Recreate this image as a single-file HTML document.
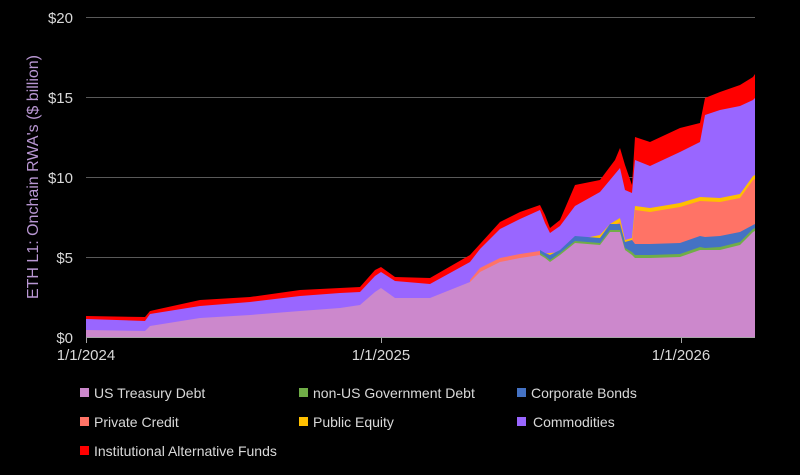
<!DOCTYPE html>
<html><head><style>
body{margin:0;background:#000;}
svg text{font-family:"Liberation Sans",sans-serif;}
</style></head><body>
<svg width="800" height="470" viewBox="0 0 800 470" xmlns="http://www.w3.org/2000/svg">
<rect width="800" height="470" fill="#000"/>
<g stroke="#595959" stroke-width="1">
<line x1="86" y1="17.5" x2="755" y2="17.5"/>
<line x1="86" y1="97.5" x2="755" y2="97.5"/>
<line x1="86" y1="177.5" x2="755" y2="177.5"/>
<line x1="86" y1="257.5" x2="755" y2="257.5"/>
</g>
<g fill="#d9d9d9" font-size="15" text-anchor="end">
<text x="73" y="23">$20</text>
<text x="73" y="103">$15</text>
<text x="73" y="183">$10</text>
<text x="73" y="263">$5</text>
<text x="73" y="343">$0</text>
</g>
<text transform="translate(38,177) rotate(-90)" fill="#b997d3" font-size="16" text-anchor="middle">ETH L1: Onchain RWA's ($ billion)</text>
<polygon fill="#ff0000" points="86,337 86,316 145,317 150,311 200,300 250,297 300,290 340,288 360,287 375,270 381,267 395,277 430,278 470,255 500,222 520,212 540,205 545,215 550,228 560,220 575,185 600,180 615,160 620,148 625,165 632,185 635,137 650,142 680,128 700,123 705,98 720,92 740,85 753,77 755,74 755,337"/>
<polygon fill="#9966ff" points="86,337 86,319 145,321 150,314 200,306 250,302 300,296 340,293 360,292 375,276 381,272 395,281 430,284 470,262 480,249 500,229 520,219 540,210 545,223 550,233 560,226 575,206 600,192 610,180 620,168 625,190 632,193 635,160 650,166 680,152 700,142 705,115 720,110 740,106 753,100 755,98 755,337"/>
<polygon fill="#ffc000" points="540,337 540,254 560,252 575,240 600,235 610,224 620,218 625,240 632,238 635,206 650,208 680,203 700,197 720,198 740,194 753,176 755,175 755,337"/>
<polygon fill="#ff7366" points="470,337 470,280 480,268 500,258 520,254 540,251 545,256 550,258 560,254 575,242 600,238 610,228 620,222 625,244 632,243 635,210 650,212 680,207 700,201 720,202 740,198 753,180 755,179 755,337"/>
<polygon fill="#4472c4" points="540,337 540,250 545,253 550,255 560,250 575,236 600,238 610,224 620,224 625,242 632,240 635,244 650,244 680,243 700,236 705,237 720,236 740,232 753,225 755,224 755,337"/>
<polygon fill="#70ad47" points="540,337 540,253 545,256 550,260 560,253 575,241 600,243 610,230 620,230 625,248 632,252 635,255 650,255 680,254 700,247 705,248 720,247 740,242 753,229 755,228 755,337"/>
<polygon fill="#cc88cc" points="86,337 86,330 145,331 150,326 200,318 250,315 300,311 340,308 360,305 375,292 381,288 395,298 430,298 470,282 480,272 500,262 520,258 540,255 545,258 550,262 560,255 575,243 600,245 610,232 620,232 625,250 632,255 635,258 650,258 680,257 700,250 705,250 720,250 740,245 753,232 755,231 755,337"/>
<g stroke="#a6a6a6" stroke-width="1">
<line x1="86" y1="337.5" x2="755" y2="337.5"/>
<line x1="86.5" y1="337" x2="86.5" y2="343"/>
<line x1="381.5" y1="337" x2="381.5" y2="343"/>
<line x1="681.5" y1="337" x2="681.5" y2="343"/>
</g>
<g fill="#d9d9d9" font-size="15" text-anchor="middle">
<text x="86" y="360">1/1/2024</text>
<text x="381" y="360">1/1/2025</text>
<text x="681" y="360">1/1/2026</text>
</g>
<g font-size="14" fill="#d9d9d9">
<rect x="80" y="388" width="9" height="9" fill="#cc88cc"/><text x="94" y="398">US Treasury Debt</text>
<rect x="299" y="388" width="9" height="9" fill="#70ad47"/><text x="313" y="398">non-US Government Debt</text>
<rect x="517" y="388" width="9" height="9" fill="#4472c4"/><text x="531" y="398">Corporate Bonds</text>
<rect x="80" y="417" width="9" height="9" fill="#ff7366"/><text x="94" y="427">Private Credit</text>
<rect x="299" y="417" width="9" height="9" fill="#ffc000"/><text x="313" y="427">Public Equity</text>
<rect x="517" y="417" width="9" height="9" fill="#9966ff"/><text x="533" y="427">Commodities</text>
<rect x="80" y="446" width="9" height="9" fill="#ff0000"/><text x="94" y="456">Institutional Alternative Funds</text>
</g>
</svg>
</body></html>
